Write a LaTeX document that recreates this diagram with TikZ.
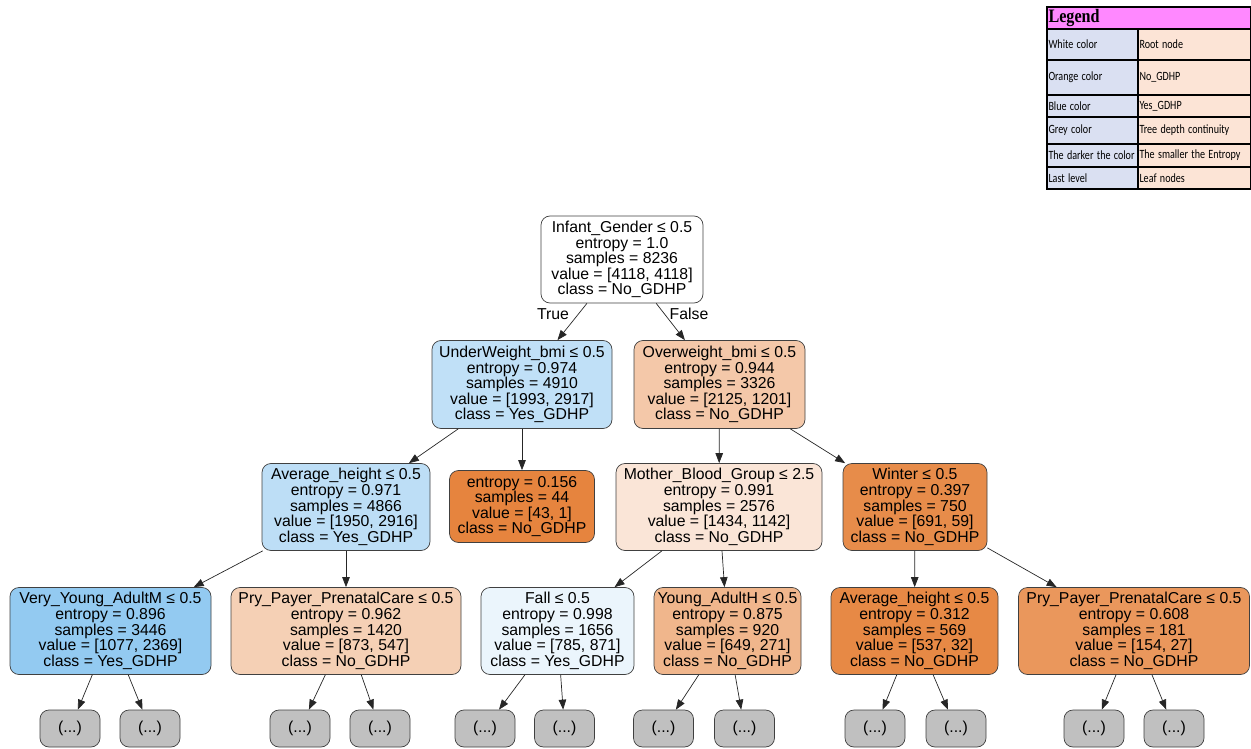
\documentclass[tikz,border=0pt]{standalone}
\usepackage{fontspec}
\usepackage{graphicx}
\usetikzlibrary{arrows.meta}
\newfontfamily\treefont{Liberation Sans}
\newfontfamily\legfont{Carlito}
\newfontfamily\legtitlefont{Liberation Serif}
\newcommand{\lgt}[1]{\scalebox{0.8}[1.0]{#1}}
\definecolor{cRoot}{RGB}{255,255,255}
\definecolor{cUW}{RGB}{192,224,247}
\definecolor{cOW}{RGB}{244,200,169}
\definecolor{cAHL}{RGB}{189,222,246}
\definecolor{cLeaf}{RGB}{230,132,62}
\definecolor{cMB}{RGB}{250,229,215}
\definecolor{cWin}{RGB}{231,140,74}
\definecolor{cVY}{RGB}{147,202,241}
\definecolor{cPL}{RGB}{245,208,181}
\definecolor{cFall}{RGB}{235,245,252}
\definecolor{cYA}{RGB}{240,182,140}
\definecolor{cAHR}{RGB}{231,137,69}
\definecolor{cPR}{RGB}{234,151,92}
\definecolor{cGrey}{RGB}{192,192,192}
\definecolor{cPink}{RGB}{255,136,255}
\definecolor{cLav}{RGB}{218,224,242}
\definecolor{cPeach}{RGB}{252,228,214}
\tikzset{
  tn/.style={draw=black!75, rounded corners=9pt, line width=0.7pt, align=center,
    inner sep=0pt, font={\treefont\fontsize{15.8}{15.6}\selectfont}},
  gn/.style={tn, fill=cGrey, minimum width=60pt, minimum height=37pt},
  arr/.style={-{Triangle[length=10pt,width=7.5pt]}, line width=0.7pt, black!85},
  elab/.style={font={\treefont\fontsize{15.8}{15.6}\selectfont}, inner sep=0pt},
  lcell/.style={draw=black, line width=1.1pt, inner xsep=1.5pt, inner ysep=1pt, text width=88pt, align=left,
    font={\legfont\fontsize{12.6}{13}\selectfont}, minimum width=91pt},
  rcell/.style={draw=black, line width=1.1pt, inner xsep=1.5pt, inner ysep=1pt, text width=110pt, align=left,
    font={\legfont\fontsize{12.6}{13}\selectfont}, minimum width=113pt},
}
\begin{document}
\begin{tikzpicture}[x=1pt,y=-1pt]
\useasboundingbox (0,0) rectangle (1251,749);
% tree nodes
\node[tn, fill=cRoot, minimum width=162pt, minimum height=87pt] (root) at (622,259.5)
  {Infant\_Gender ≤ 0.5\\entropy = 1.0\\samples = 8236\\value = [4118, 4118]\\class = No\_GDHP};
\node[tn, fill=cUW, minimum width=180pt, minimum height=88pt] (uw) at (522,384.5)
  {UnderWeight\_bmi ≤ 0.5\\entropy = 0.974\\samples = 4910\\value = [1993, 2917]\\class = Yes\_GDHP};
\node[tn, fill=cOW, minimum width=171pt, minimum height=88pt] (ow) at (719.5,384.5)
  {Overweight\_bmi ≤ 0.5\\entropy = 0.944\\samples = 3326\\value = [2125, 1201]\\class = No\_GDHP};
\node[tn, fill=cAHL, minimum width=168pt, minimum height=87pt] (ahl) at (346,507)
  {Average\_height ≤ 0.5\\entropy = 0.971\\samples = 4866\\value = [1950, 2916]\\class = Yes\_GDHP};
\node[tn, fill=cLeaf, minimum width=145pt, minimum height=72pt] (leaf) at (522,506.5)
  {entropy = 0.156\\samples = 44\\value = [43, 1]\\class = No\_GDHP};
\node[tn, fill=cMB, minimum width=206pt, minimum height=87pt] (mb) at (719,507)
  {Mother\_Blood\_Group ≤ 2.5\\entropy = 0.991\\samples = 2576\\value = [1434, 1142]\\class = No\_GDHP};
\node[tn, fill=cWin, minimum width=144pt, minimum height=87pt] (win) at (915,507)
  {Winter ≤ 0.5\\entropy = 0.397\\samples = 750\\value = [691, 59]\\class = No\_GDHP};
\node[tn, fill=cVY, minimum width=201pt, minimum height=87pt] (vy) at (110.5,631)
  {Very\_Young\_AdultM ≤ 0.5\\entropy = 0.896\\samples = 3446\\value = [1077, 2369]\\class = Yes\_GDHP};
\node[tn, fill=cPL, minimum width=230pt, minimum height=87pt] (pl) at (346,631)
  {Pry\_Payer\_PrenatalCare ≤ 0.5\\entropy = 0.962\\samples = 1420\\value = [873, 547]\\class = No\_GDHP};
\node[tn, fill=cFall, minimum width=153pt, minimum height=87pt] (fall) at (557.5,631)
  {Fall ≤ 0.5\\entropy = 0.998\\samples = 1656\\value = [785, 871]\\class = Yes\_GDHP};
\node[tn, fill=cYA, minimum width=147pt, minimum height=87pt] (ya) at (727.5,631)
  {Young\_AdultH ≤ 0.5\\entropy = 0.875\\samples = 920\\value = [649, 271]\\class = No\_GDHP};
\node[tn, fill=cAHR, minimum width=167pt, minimum height=87pt] (ahr) at (914.5,631)
  {Average\_height ≤ 0.5\\entropy = 0.312\\samples = 569\\value = [537, 32]\\class = No\_GDHP};
\node[tn, fill=cPR, minimum width=231pt, minimum height=87pt] (pr) at (1134,631)
  {Pry\_Payer\_PrenatalCare ≤ 0.5\\entropy = 0.608\\samples = 181\\value = [154, 27]\\class = No\_GDHP};
% grey continuation nodes
\node[gn] (g1) at (70,728.5) {(...)};
\node[gn] (g2) at (150,728.5) {(...)};
\node[gn] (g3) at (300,728.5) {(...)};
\node[gn] (g4) at (380,728.5) {(...)};
\node[gn] (g5) at (485,728.5) {(...)};
\node[gn] (g6) at (564.5,728.5) {(...)};
\node[gn] (g7) at (663.5,728.5) {(...)};
\node[gn] (g8) at (744.5,728.5) {(...)};
\node[gn] (g9) at (875,728.5) {(...)};
\node[gn] (g10) at (956,728.5) {(...)};
\node[gn] (g11) at (1094,728.5) {(...)};
\node[gn] (g12) at (1174,728.5) {(...)};
% edges
\draw[arr] (root) -- (uw);
\draw[arr] (root) -- (ow);
\draw[arr] (uw) -- (ahl);
\draw[arr] (uw) -- (leaf);
\draw[arr] (ow) -- (mb);
\draw[arr] (ow) -- (win);
\draw[arr] (ahl) -- (vy);
\draw[arr] (ahl) -- (pl);
\draw[arr] (mb) -- (fall);
\draw[arr] (mb) -- (ya);
\draw[arr] (win) -- (ahr);
\draw[arr] (win) -- (pr);
\draw[arr] (vy) -- (g1);
\draw[arr] (vy) -- (g2);
\draw[arr] (pl) -- (g3);
\draw[arr] (pl) -- (g4);
\draw[arr] (fall) -- (g5);
\draw[arr] (fall) -- (g6);
\draw[arr] (ya) -- (g7);
\draw[arr] (ya) -- (g8);
\draw[arr] (ahr) -- (g9);
\draw[arr] (ahr) -- (g10);
\draw[arr] (pr) -- (g11);
\draw[arr] (pr) -- (g12);
\node[elab] (tlab) at (553,314) {True};
\node[elab] (flab) at (689,314) {False};
% legend
\node[draw=black, line width=1.1pt, fill=cPink, minimum width=204pt, minimum height=22pt,
  text width=201pt, align=left, inner xsep=1.5pt, inner ysep=0pt,
  font={\legtitlefont\bfseries\fontsize{19}{20}\selectfont}] (lh) at (1149,18) {\scalebox{0.85}[1.0]{Legend}};
\node[lcell, fill=cLav, minimum height=31pt] (l1) at (1092.5,44.5) {\lgt{White color}};
\node[rcell, fill=cPeach, minimum height=31pt] (r1) at (1194.5,44.5) {\lgt{Root node}};
\node[lcell, fill=cLav, minimum height=35pt] (l2) at (1092.5,77.5) {\lgt{Orange color}};
\node[rcell, fill=cPeach, minimum height=35pt] (r2) at (1194.5,77.5) {\lgt{No\_GDHP}};
\node[lcell, fill=cLav, minimum height=22pt] (l3) at (1092.5,106) {\lgt{Blue color}};
\node[rcell, fill=cPeach, minimum height=22pt] (r3) at (1194.5,106) {\lgt{Yes\_GDHP}};
\node[lcell, fill=cLav, minimum height=27pt] (l4) at (1092.5,130.5) {\lgt{Grey color}};
\node[rcell, fill=cPeach, minimum height=27pt] (r4) at (1194.5,130.5) {\lgt{Tree depth continuity}};
\node[lcell, fill=cLav, minimum height=23pt] (l5) at (1092.5,155.5) {\lgt{The darker the color}};
\node[rcell, fill=cPeach, minimum height=23pt] (r5) at (1194.5,155.5) {\lgt{The smaller the Entropy}};
\node[lcell, fill=cLav, minimum height=22pt] (l6) at (1092.5,178) {\lgt{Last level}};
\node[rcell, fill=cPeach, minimum height=22pt] (r6) at (1194.5,178) {\lgt{Leaf nodes}};
\end{tikzpicture}
\end{document}
